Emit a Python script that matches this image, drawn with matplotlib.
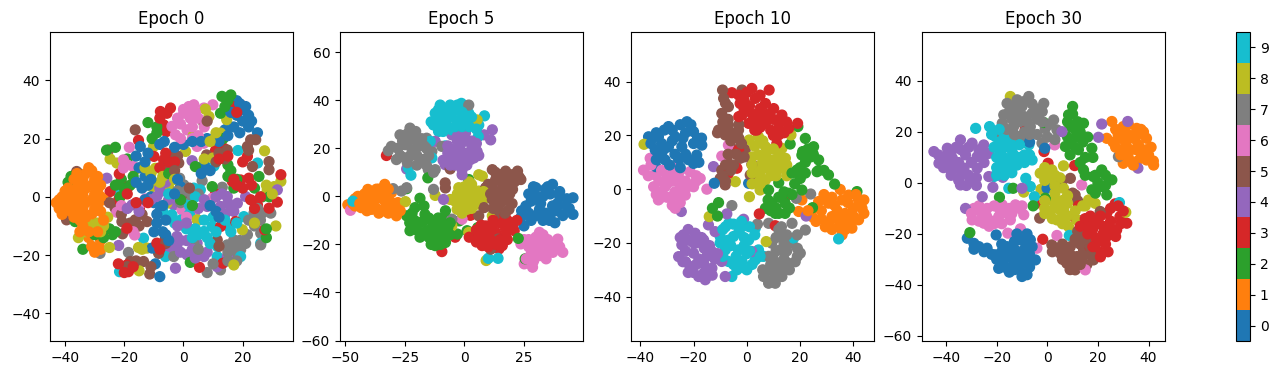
import matplotlib
matplotlib.use("Agg")
from matplotlib import pyplot as plt
from matplotlib.cm import ScalarMappable
from matplotlib.colors import Normalize

# points, (x, y) per digit class

# Epoch 0
e0_0 = [(18,33),(20,30),(18,28),(22,28),(20,26),(17,24),(22,24),(25,22),(14,23),(11,21),(8,20),(-14.6,17.3),(-12,15),(-6.5,19),(0,18),
        (-15,10),(-13,7),(-14,3),(-11,0),(-12,4),(-10,-2),(-8,-5),(-9,-9),(-7,-12),(-6,-13),(-1,3.5),(7,11),(11,-5),(-9.5,-23),(-8,-27.4),(-10.6,-17.6),
        (19,32),(16,29),(21,31),(23,26),(19,22),(15,21),(12,19),(6,19),(-16,14),(-8,18),(-3,17),(3,19),(-13,12),(-16,5),(-11,6),(-13,-1),(-7,-3),(-10,-12),(-6,-8),(-9,-6),(-5,-15),(-3,1),(-2,6),(9,-3),(12,-7),(6,8),(9,9)]
e0_1 = [(-42,-1),(-42,-4),(-40,2),(-40,-3),(-38,5),(-38,0),(-38,-5),(-36,8),(-36,3),(-36,-2),(-35,-8),(-34,6),(-34,1),(-34,-4),(-33,-10),
        (-31,9),(-31,4),(-31,-1),(-31,-6),(-30,-9),(-29,7),(-29,2),(-29,-3),(-32,-14),(-31,-17),(-28,-15),(-28,-18),(-27,-1),(-27,-12),
        (-43,-2),(-41,0),(-41,-6),(-39,3),(-39,-2),(-37,6),(-37,2),(-37,-3),(-37,-7),(-35,4),(-35,0),(-35,-5),(-33,8),(-33,3),(-33,-2),(-33,-7),(-32,10),(-30,6),(-30,1),(-30,-4),(-28,4),(-28,0),(-28,-5),(-34,-10),(-32,-12),(-29,-12),(-30,-19),(-27,-8),(-35,-12)]
e0_2 = [(-26,-12),(-24,-13),(-28,-12),(-34,-18),(-36.6,-8.5),(-35,-3.3),(-38,7),(-39,5),(-26,16),(-19,13),(-21,6),(-12,25.5),(-9,22),(-10.6,20),
        (13,34.5),(16,35),(12.5,28.7),(13.4,20),(16,9),(17,3),(25.5,7),(26.6,0),(29,0),(28,-14),(2.3,-22.5),(9.7,3.5),(4,10.4),(-21.4,0),
        (-27,-14),(-25,-11),(-30,-13),(-23,-12),(-23,17),(-9,24),(15,33),(14,31),(15,11),(18,6),(15,7),(24,3),(-18,4),(-20,3),(-17,7),(-23,4),(3,-3),(-5,8),(-1,-1),(28,-11)]
e0_3 = [(-7.8,29.3),(-4.4,30.5),(-5.6,28.7),(-6.7,24.7),(-5.8,22.4),(-15.2,19.4),(16.5,31),(19.3,31.6),(-10,13.9),(-6.7,12.7),(-21.7,7.9),(-18.6,3.5),
        (-21.9,-1),(-24.8,1.8),(10.8,15.9),(13.6,16.7),(21.6,13.9),(19.3,5.8),(22.1,6.4),(16.5,5.3),(10.8,1),(22.7,-1),(25,-2.8),(31.7,-1.8),(32.9,7.6),
        (28.9,-3.9),(27.4,-11.3),(17.6,-8.5),(12.5,-10.2),(13.3,-22.8),(5.4,-24.2),(-19.1,-23.4),(-18.6,-25.7),(-9,-15.9),(-14.9,-3.9),(-19.1,-10.8),
        (-8,27),(-3,12),(-8,10),(-5,12),(18,29),(18,4),(20,3),(23,4),(17,6),(24,-4),(26,0),(-20,-26),(-17,-24),(-22,-23),(-8,-18),(-12,-2),(-6,15),(12,13),(15,14),(20,12),(-16,-2),(-19,1)]
e0_4 = [(-29.3,-.7),(-25.9,6.4),(2.9,12.4),(-21.9,-16.7),(-17.4,-2.8),(-7.8,1.8),(-3.3,-2.8),(-2.7,-24.5),(14.8,.1),(12.5,-3.3),(15.9,-4.5),(18.2,-2.2),
        (8,-3.3),(21,.1),(-2.2,-13.6),(4.6,-15.9),(-2.2,-17.6),(-5.6,-18.2),(1.2,-19.9),(6.9,-20.5),(14.8,-20.5),(11.4,-24),(31.7,2.4),(-9,.1),
        (13,1),(15,-2),(17,-5),(14,-6),(11,0),(-1,-15),(1,-15),(3,-18),(-1,-19),(4,-21),(8,-19),(-4,-16),(-8,3),(-5,-1),(-6,5),(-11,-1),(-15,-5),(-19,-4),(5,-4),(7,-1),(-2,-10),(1,-9)]
e0_5 = [(-16.3,23),(-25.3,16.1),(-36.1,8.7),(-39.5,-7.9),(-23.1,-3.9),(-20.8,-8.5),(-16.3,-7.9),(-12.3,-8.5),(-20.6,-12.7),(-6.1,-13.9),(-18,-22.2),(-13.5,-22.2),
        (-11.4,-26.5),(-3.3,14.4),(-1.6,11.6),(6.9,25.3),(7.8,14.4),(13.1,13.3),(14.8,16.1),(21.6,17.3),(22.7,19.6),(24.4,19.6),(23.3,10.4),(28.9,12.1),(28.9,9.3),
        (11.4,-14.8),(.1,1.3),(-8.4,-19.4),
        (-18,-9),(-15,-10),(-21,-6),(-14,-6),(-4,13),(-2,14),(-5,11),(12,15),(11,12),(14,13),(22,16),(-16,-22),(-19,-24),(-11,-24),(8,26),(-25,-2),(-1,-1),(2,3),(-3,9),(12,-17),(-6,-16)]
e0_6 = [(1.8,31),(3.5,31.6),(6.9,30.5),(9.9,31.6),(.1,28.7),(2.3,27),(-3.9,24.2),(-2.7,21.3),(4.6,17.3),(1.2,23),(6.9,18.4),(-18.3,17),(-20.3,12.7),(-20.3,9.9),
        (-16.9,10.4),(-12.9,-.7),(-22.5,-5.3),(-16.5,-13.1),(-.5,-4.5),(3.7,-6.2),(9.7,-.5),
        (4,29),(2,30),(0,30),(5,27),(3,24),(-1,25),(5,21),(7,24),(3,20),(-1,20),(-2,27),(-19,11),(-21,-3),(-17,-12),(1,-7),(-14,-2)]
e0_7 = [(-31,-17.1),(-28.2,-19.4),(-18.6,-19.1),(-1.3,6.4),(6.3,5.5),(.1,4.1),(13.1,3.3),(1.8,-.5),(23.8,-5.6),(29.5,-5.6),(26.6,-5.6),(23.8,-9),(26.1,-12.5),
        (21.6,-13),(17,-14.8),(19.3,-18.2),(14.8,-16.5),(17,-19.9),(3.5,-15.9),(12.5,-25.1),(8,-26),(26.1,-16.5),(-3.3,-20.5),
        (17,-17),(19,-15),(21,-16),(24,-10),(22,-8),(26,-8),(25,-4),(18,-22),(15,-19),(15,-22),(1,2),(-2,2),(3,0),(5,1),(-1,-2),(10,-23),(5,-18)]
e0_8 = [(-35.5,8.1),(-24.8,13),(-22.5,11.6),(-16.3,9.3),(-10.1,17.3),(-9.5,9.8),(-11.2,5.8),(-10.6,3.5),(-5,3.3),(-4.4,9.5),(.7,15.6),(-5.6,-2.2),(7.4,30.1),(8.6,27.6),
        (14.6,26.5),(12.5,21.9),(10.3,19.6),(3.3,21),(27.4,15.8),(32.9,5.3),(30.6,3.5),(28.3,2.4),(31.2,-10),(19.9,-11.3),(4.6,-7.9),(-15,-25.4),(-15.2,-17.4),(-12.3,-17.6),
        (-25.6,-7),(-31.2,-9.6),(-35.5,-14),(-25,-17.4),(17,-23.4),(9.9,13.3),
        (-27,-10),(-29,-9),(-33,-12),(-11,8),(-8,5),(-13,10),(-7,7),(11,22),(9,19),(30,1),(28,4),(-28,-12),(-14,-18),(-3,6),(7,13),(24,-9)]
e0_9 = [(-6.7,7.6),(-22.2,1.6),(18.4,15.9),(15.3,24.2),(10.3,10.6),(3.5,3),(5.7,2.4),(-3.9,-6.2),(1.2,-2.8),(2.9,-11.3),(6.9,-11.9),(9.7,-10.2),(11.4,-17),(11.4,-20.5),
        (15.3,-10.2),(20.4,-6.8),(-13.5,-14.2),(-21.6,-25.7),(-6.1,-20.5),(19.3,-20.5),(26.1,-15.9),(25,11.6),
        (2,-6),(5,-8),(4,-11),(7,-8),(10,-7),(1,-11),(-1,-8),(-3,-9),(8,-14),(11,-12),(14,-8),(18,-9),(16,-12),(5,-13),(9,-16),(3,-14),(-5,1),(4,0),(2,-3),(-7,-5)]

# Epoch 5
e5_0 = [(30,3.6),(37,5),(33,0),(40,0),(45.6,-.6),(25.8,-4),(31.5,-5.4),(37,-4),(42.8,-4),(45.6,-7.5),(30,-8),(35.7,-10),(41.3,-8),(23.7,-8.8),(25,-12.3),(28,-2),(34,3),(39,-6),
        (27,1),(30,0),(36,1),(43,-1),(27,-7),(34,-7),(39,-3),(44,-5),(24,-6),(32,-3),(36,-8),(40,2),(38,-11),(33,-10),(28,-10),(29,4),(35,4)]
e5_1 = [(-49,-3.5),(-44.8,0),(-40.6,2.9),(-33.5,5),(-36,3),(-43.4,-4.7),(-39,-5.4),(-39,-1.3),(-34,-1.3),(-34,-6),(-28.6,-8.1),(-28,-2.6),(-30.7,1.5),(-47,-3),(-31,-5),
        (-46,-1),(-46,-4),(-43,-1),(-42,1),(-41,-3),(-37,3),(-37,-1),(-37,-5),(-36,-7),(-32,-1),(-32,3),(-32,-7),(-30,-3),(-29,-5),(-35,1),(-41,-6),(-38,1),(-33,-4),(-27,-6),(-44,-3)]
e5_2 = [(-20.8,-4.7),(-24.3,-8.1),(-22.9,-14.3),(-18.7,-17),(-16.6,-7.5),(-13.7,-13.7),(-12.3,-20.5),(-8,-9.5),(-8,-19.2),(-10.9,-17),(-10,-12),(-3,-15.7),(1.1,-14.3),
        (-2.2,-10.2),(5.6,-13),(-24.3,3.2),(-18.7,-.8),(-15.4,7.7),(1.8,7),(22.6,-17.5),(25.5,-26),(-19,-11),(-15,-17),
        (-22,-7),(-21,-10),(-23,-11),(-20,-14),(-17,-4),(-17,-10),(-15,-9),(-16,-14),(-14,-10),(-13,-17),(-11,-9),(-11,-13),(-9,-15),(-10,-20),(-7,-13),(-6,-16),(-6,-11),(-14,-20),(-12,-12),(-8,-6)]
e5_3 = [(-32.8,17),(2.5,-7.9),(-9.5,-23),(-3.9,-17),(4.6,-17.8),(3.2,-15),(8.9,-12.3),(14.5,-10.9),(20.2,-12.3),(20.9,-14.3),(13.1,-15),(17.3,-15.7),(7.4,-20.5),(14.5,-21.9),
        (15.9,-20.5),(10.3,-16.4),(5,-19),(12,-19),
        (2,-17),(5,-14),(7,-15),(7,-12),(11,-13),(12,-10),(16,-11),(17,-13),(18,-10),(8,-18),(11,-18),(15,-18),(18,-18),(13,-20),(10,-21),(17,-8),(22,-10)]
e5_4 = [(-5.3,25.6),(.4,26.3),(-1.7,21.5),(-5.3,19.4),(3.2,20.8),(5.3,18.7),(-8.1,13.2),(-2.4,15.3),(2.5,15.3),(-1,11.1),(-6,16),(11.7,27.7),(8.2,25.6),(11,23.5),(-12.3,22.9),
        (-24.3,11.4),(-8.8,-1.3),(-1,18),(3,23),
        (-3,25),(-2,27),(1,23),(-3,23),(-7,21),(-3,19),(1,18),(4,16),(-6,13),(-4,13),(0,14),(-9,15),(-7,18),(-1,13),(-1,9),(1,13),(5,22),(6,17)]
e5_5 = [(11.7,11.1),(17.3,10.5),(22.3,10.5),(23.7,7),(13.1,7),(18.7,6.3),(8.9,3.6),(14.5,1.5),(20.2,2.9),(11.7,-1.3),(17.3,-1.3),(14.5,-3),(14.5,-6.1),(18.7,-5.4),(8.2,-4.7),
        (6,-8.1),(15.2,-8.8),(-8.1,5.6),(-8,3.5),(-6,11.4),(14.1,-17.8),(11,-22),
        (13,10),(15,9),(20,9),(16,5),(21,6),(10,5),(12,3),(17,3),(23,8),(11,1),(14,-1),(19,1),(15,-3),(20,-3),(12,-5),(17,-7),(16,8)]
e5_6 = [(12.4,4.5),(-47.9,-5.8),(31.5,-15),(35,-18),(23.7,-19.8),(28.6,-20.5),(33.6,-19.2),(39.2,-17.8),(41.3,-23.3),(37.1,-23.3),(31.5,-24.7),(34.3,-26),(25.1,-28.1),(28.6,-29.5),(-1,-9.5),
        (25,-18),(27,-18),(30,-17),(33,-16),(36,-20),(38,-21),(35,-23),(28,-24),(27,-21),(31,-22),(40,-21),(34,-24),(29,-27),(26,-26),(31,-18)]
e5_7 = [(-22.9,28.4),(-20.5,27),(-27.1,25.6),(-20.1,24.2),(-15.9,24.2),(-30.7,20.8),(-25,21.5),(-19.4,20.8),(-13.7,18.7),(-28.6,15.3),(-22.9,16.7),(-17.3,15.3),(-15.2,11.1),
        (-12.3,11.1),(-30,3.2),(-26.5,2.2),(-24.3,3.6),(-13,2.9),(1.8,38),(-5.3,-9.5),(-9.5,20.8),
        (-24,26),(-22,25),(-26,23),(-23,23),(-18,24),(-28,20),(-22,19),(-16,20),(-32,19),(-27,17),(-25,16),(-20,17),(-15,17),(-20,13),(-24,14),(-17,21),(-13,10),(-16,13)]
e5_8 = [(7.5,8.4),(-2.4,3.6),(1.8,2.9),(6,2.2),(8.9,-.6),(-6,-1.3),(-1.7,-1.3),(3.2,-1.3),(-3.1,-5.4),(1.1,-5.4),(6,-3.3),(11.7,-8.1),(-12.3,.4),(-24.8,-2.2),(-5.3,-12.3),(1.8,-15),(9.1,-26.7),(5.3,31.8),
        (0,4),(3,5),(5,0),(7,0),(-3,1),(1,0),(-1,1),(4,-3),(-2,-4),(3,-5),(-4,-2),(8,2),(-1,-7),(6,9),(2,6),(0,-3)]
e5_9 = [(-10.2,38),(-1.3,38.7),(-12.3,34.6),(-6.7,35.2),(1.8,34.6),(8.4,33.5),(-13,29.7),(-8.1,31.1),(-3.1,31.8),(1.8,31.1),(6,29.7),(-10.9,27),(-5.3,27.7),(5.8,24.9),(-8.1,21),
        (-14.4,22.9),(-23.6,11.8),(-22.5,8.8),(10,-25.8),(14.1,-25.8),(-46.9,-2),(-13.7,16),
        (-11,36),(-9,36),(-4,36),(-12,32),(-10,33),(-6,33),(-1,35),(3,33),(-14,31),(-11,29),(-7,29),(-4,29),(-1,29),(2,29),(5,28),(0,33),(-9,27),(-6,38),(-3,38)]

# Epoch 10
e10_0 = [(-36.9,19.5),(-29.4,23.3),(-22.5,25.1),(-33.2,19.5),(-26.9,19.5),(-20,21.4),(-34.4,14.6),(-29.4,15.8),(-24.4,15.8),(-16.9,16.4),(-18.5,19),(-30.7,10.9),(-25.6,10.9),(-20,9.6),
         (-18.8,12.7),(-34.2,8.4),(-12.2,2.2),(.7,2.2),(-27,8),(-23,21),
         (-34,21),(-31,22),(-28,22),(-25,24),(-21,24),(-36,17),(-32,17),(-28,18),(-24,19),(-20,17),(-17,19),(-32,13),(-27,13),(-23,13),(-34,11),(-29,9),(-22,11),(-18,10),(-25,8),(-31,15)]
e10_1 = [(35.1,-.1),(20.7,-4),(27,-4.6),(19.5,-8.3),(24.5,-10.2),(30.7,-5.2),(35.8,-4),(42,-4),(43.3,-7.1),(32,-10.2),(37,-9),(42,-11.4),(29.5,-14),(34.5,-14),(39.5,-14.5),(35.8,-17),(28,-8),(38.3,-2.2),
         (25,-7),(29,-2),(32,-3),(33,-6),(38,-5),(40,-7),(41,-2),(44,-4),(23,-8),(28,-11),(34,-11),(40,-10),(31,-12),(36,-12),(37,-15),(32,-15),(39,-12),(44,-9),(26,-12),(34,-8)]
e10_2 = [(22,18.9),(25.1,15.8),(20.7,12.7),(27,10.9),(26.4,6.5),(30.7,5.3),(33,1.9),(16.3,16.8),(19.2,23.3),(18.8,7.1),(20.1,4),(12,2.4),(15.7,-1.5),(20.7,-.3),(8.2,-.3),(9.4,-5.2),(7,-7.1),
         (14.4,-9),(10.7,-9),(14.4,-5.2),(-10.6,-5),(-12.9,-7.1),(-11,-10),(41.4,-.9),(24.7,-6.9),
         (23,15),(22,10),(20,8),(25,13),(27,7),(17,6),(22,6),(12,-3),(14,-1),(11,-7),(9,-8),(12,-9),(8,-4),(16,-7),(13,-3),(17,-2),(21,14),(24,12),(29,7),(18,2)]
e10_3 = [(-5.6,35.9),(1.9,37.5),(8.4,36.9),(-2.5,31.9),(3.2,33.8),(7,31.9),(10.1,30),(-1.8,27.6),(4.4,27.6),(13.2,27.6),(.7,24.5),(7,24.5),(12,22.6),(3.8,22),(12,20.2),(15.7,22.6),(19.1,24.5),
         (11.3,17),(14.4,-2.8),(4.7,-9.2),(10.7,-13.6),(-3.7,7.8),(-6.9,5.9),(-3.1,14.6),
         (-3,35),(0,36),(5,35),(-1,33),(1,31),(5,30),(8,28),(2,28),(-1,30),(6,26),(10,26),(12,25),(3,25),(9,22),(5,23),(10,20),(15,25),(-3,27),(3,22),(14,21)]
e10_4 = [(-23.8,-17),(-19.4,-16.4),(-24.4,-20.7),(-16.2,-18.9),(-25.6,-25.1),(-20,-23.8),(-13.1,-23.2),(-21.3,-28.8),(-16.2,-27.6),(-13.1,-29.4),(-15.6,-33.7),(-18.1,-32.5),(-24,-27),(-12.5,8.4),
         (-24.6,-8.3),(-7.5,-9.2),(-1.2,-11.2),(-14.4,-13.3),(-11.9,-15.8),(-8.1,-32.5),(1.9,-23.2),(-9.4,-26.9),(22.3,-10),
         (-22,-15),(-22,-19),(-25,-18),(-19,-20),(-14,-21),(-23,-23),(-20,-20),(-16,-22),(-18,-26),(-23,-27),(-15,-25),(-12,-26),(-20,-31),(-16,-31),(-13,-32),(-19,-28),(-22,-31),(-11,-24),(-17,-18)]
e10_5 = [(-9.1,36.9),(-8.7,33.8),(-6.9,30.7),(-9.4,28.2),(-10.6,22),(-6.9,23.9),(-3.1,22),(-8.1,20.2),(-5,20),(-.6,14.6),(-5.6,15.2),(-2.5,11.5),(-7.5,11.5),(-9.4,7.1),(-10,4),(-8.1,1.6),(1.9,9.3),(1.3,5.3),(-1.8,36.9),
         (-8,32),(-7,26),(-9,25),(-9,23),(-6,21),(-11,21),(-3,19),(-6,18),(-2,17),(-7,13),(-4,13),(-1,12),(-8,9),(-5,9),(-9,5),(-6,7),(-8,3),(-3,24)]
e10_6 = [(-36.3,11.5),(-38.8,7.1),(-34.4,5.3),(-30,4.7),(-25.7,4.7),(-21.3,6.5),(-17.5,4),(-20,.9),(-35,.9),(-30.7,.9),(-25,.9),(-33.2,-4),(-28.2,-2.8),(-23.1,-2.2),(-26.9,-7.1),(-15,0),(-9.4,12.3),(-6.9,16.4),(-28,8),
         (-36,9),(-32,7),(-28,6),(-25,7),(-33,3),(-28,3),(-23,3),(-19,3),(-37,5),(-32,-1),(-27,-1),(-22,1),(-30,-3),(-25,-3),(-34,-2),(-28,-6),(-25,-5),(-32,-3),(-19,5),(-30,2)]
e10_7 = [(-5.6,-6.1),(18.6,-3.4),(24,-1.8),(4,-13),(8.2,-12.7),(17,-12.7),(22,-15.2),(13.2,-17.6),(9.4,-20.1),(17,-20.1),(20.1,-23.8),(12.6,-22.6),(8.2,-25),(15.7,-27.6),(10.7,-30),(6.3,-32.5),(13.2,-32.5),(8.2,-35),(10.7,-35),(18.2,-27),
         (12,-15),(15,-17),(19,-17),(11,-18),(14,-20),(19,-22),(11,-23),(15,-23),(10,-26),(14,-26),(19,-25),(9,-28),(12,-28),(8,-30),(14,-30),(6,-30),(10,-33),(16,-30),(13,-14)]
e10_8 = [(.9,18.3),(4.4,19.5),(7,15.8),(13.2,15.2),(14.5,11.5),(4.4,12.7),(9.4,10.9),(4.4,8.4),(9.4,7.1),(13.2,7.8),(3.8,4),(7,3.4),(5,-.3),(16.6,20.2),(15,5),(-4.3,2.8),(1,-2.8),(-14.1,-10.2),(7.3,-19.5),(-38.6,16.7),
         (3,16),(6,18),(10,15),(12,13),(7,13),(2,12),(6,10),(12,10),(15,9),(2,9),(7,8),(11,8),(2,6),(5,6),(9,5),(5,2),(8,9),(11,5),(2,2)]
e10_9 = [(-6.8,-12.7),(-1.8,-14),(3.2,-14.5),(-10,-17.6),(-5,-17.6),(.7,-18.9),(-8.1,-22.6),(-3.1,-22.6),(4.4,-22.6),(6.3,-25),(-6.9,-26.9),(-1.8,-26.9),(3.2,-26.3),(0,-30),(-3.7,-30),(-5.6,-32.5),(34.5,-18.5),(17.6,-18.2),
         (-8,-14),(-5,-13),(-2,-12),(1,-14),(-9,-15),(-7,-19),(-3,-16),(-1,-18),(3,-17),(-10,-20),(-6,-21),(-1,-21),(1,-23),(-9,-25),(-4,-25),(0,-24),(-5,-28),(-2,-29),(2,-28),(-8,-20),(5,-25)]

# Epoch 30
e30_0 = [(-31.6,-21.7),(-27,-25),(-20.2,-20.4),(-15.9,-25),(-20.5,-28.2),(-15.2,-28.9),(-10.6,-22.3),(-6.7,-22.3),(-9.3,-26.3),(-4.7,-30.2),(-19.2,-33.5),(-13.9,-32.8),(-10,-36.7),(-8,-30.2),(-12,-30),(-.1,-2.1),(-1,13.6),
         (-17,-33),(-23.8,-25.6),(-29,-23.7),(-7,16),
         (-18,-24),(-13,-23),(-9,-23),(-6,-25),(-13,-26),(-18,-27),(-22,-28),(-7,-28),(-11,-28),(-17,-30),(-13,-30),(-10,-31),(-18,-32),(-15,-35),(-11,-34),(-7,-33),(-8,-36),(-20,-30),(-13,-34),(-8,-20),(-12,-20),(-29,-26),(-25,-27)]
e30_1 = [(25.5,24.1),(30,22.1),(35.3,21.4),(23.5,17.5),(28.7,17.5),(34,17.5),(39.2,17.5),(30,13),(35.3,13),(39,13),(30,7.7),(35.3,8.4),(41.9,8.6),(39.2,9),(32,19),(37,21),
         (27,21),(32,23),(28,19),(31,19),(36,19),(38,20),(26,16),(31,15),(36,15),(41,14),(27,14),(33,13),(38,12),(32,10),(37,10),(29,11),(34,7),(33,18),(40,11),(42,7)]
e30_2 = [(10,30),(8.4,26.7),(14.3,23.4),(9,22.1),(11.7,18.2),(7.1,14.3),(17.6,13.6),(12.3,13),(14.3,5.1),(21.5,5.1),(25.5,1.2),(18.2,2.5),(21.5,-1.4),(17.6,-2.7),(23.5,-4.7),(-1.4,23.7),(-13.5,-2.1),(-18.9,-5.6),(-5.6,-9),(-30.6,-19.5),(-.8,-6),
         (10,27),(12,24),(11,21),(8,18),(13,20),(16,18),(14,16),(10,15),(9,11),(15,10),(13,8),(18,10),(19,3),(23,3),(20,0),(23,-1),(19,-4),(15,3),(8,24)]
e30_3 = [(-8.7,21),(-1.3,12.3),(.3,7.7),(10.8,6.8),(-4.7,-8.2),(-1.8,-22.1),(12.3,-9),(10.4,-13.2),(26.8,-8.2),(23.5,-11.9),(28.7,-13.2),(31.4,-15.8),(18.2,-14.5),(15.6,-17.1),(22.2,-17.1),(27.4,-18.4),(18.2,-21),(23.5,-21),(20.2,-26.9),(16.9,-25),
         (25,-10),(28,-9),(21,-13),(25,-15),(29,-16),(22,-20),(25,-18),(20,-16),(18,-18),(15,-14),(20,-23),(23,-24),(18,-25),(21,-29),(24,-27),(30,-11),(16,-20),(27,-21),(13,-17),(17,-13)]
e30_4 = [(-44.8,12.3),(-39.5,13.6),(-34.3,16.9),(-29.7,15.6),(-25.1,14.9),(-23.1,11.6),(-42.8,7.7),(-37.5,9.7),(-32.3,11),(-27.7,10.3),(-38.2,5.1),(-32.9,5.8),(-27.7,5.8),(-34.3,-.8),(-30.3,1.2),(-23.1,2.5),(-17.6,2.2),(-21.5,-1.7),
         (-25.7,-5.4),(-32.3,-10),(21.5,23.1),(31.8,24.1),(20.2,17.9),(35.8,5.8),(5.8,20.1),(-10,-2.1),
         (-43,11),(-41,10),(-38,12),(-36,14),(-34,13),(-31,14),(-27,13),(-41,6),(-39,8),(-36,6),(-35,8),(-30,8),(-25,8),(-34,3),(-38,3),(-31,3),(-28,2),(-35,1),(-32,-1),(-25,11),(-28,-1)]
e30_5 = [(5.8,.5),(9.1,1.8),(11,-4.7),(12,-7),(-3,-13.8),(14.2,-14.5),(1.8,-24.3),(5.1,-27.6),(9.1,-25),(13,-21),(14.3,-26.3),(18.2,-30.2),(7.7,-31.5),(11,-34.1),(15.6,-32.1),(11.7,-28.9),(3,-26),(20.9,-11.2),
         (10,-4),(4,-26),(6,-24),(9,-28),(7,-27),(13,-24),(11,-22),(10,-31),(14,-29),(17,-28),(6,-30),(9,-34),(13,-32),(17,-25),(15,-22),(2,-27),(12,-19)]
e30_6 = [(-29,-10),(-29.7,-14.5),(-23.8,-10),(-17.8,-8.6),(-12.6,-8.6),(-19.2,-13.2),(-25.1,-15.8),(-9.3,-12.5),(-14.6,-14.5),(-15.6,-19.7),(-10.6,-18),(13.6,-.8),(3.8,-20.6),(-4.1,-25.6),(2.9,14.9),(15,-34.1),(-21,-16),
         (-27,-9),(-26,-12),(-21,-9),(-24,-13),(-19,-10),(-15,-10),(-16,-12),(-11,-10),(-22,-15),(-27,-15),(-18,-16),(-14,-12),(-30,-12),(-10,-9),(-23,-17)]
e30_7 = [(-7.3,33.9),(-11.9,32.6),(-15.9,31.2),(-1.4,31.2),(-17.2,26.7),(-11.9,27.3),(-6,27.3),(-17.8,23.4),(-13.3,22.1),(-6.7,22.1),(2.5,24.7),(3.8,20.8),(-.8,21.4),(-2.1,15.6),(-10.6,17.5),(-17.8,18.8),(28.1,10.3),
         (-9,32),(-13,30),(-10,30),(-6,31),(-4,29),(-15,28),(-9,26),(-14,25),(-11,24),(-8,24),(-4,25),(-2,24),(-16,21),(-13,19),(-9,20),(-4,19),(0,18),(1,23),(-7,19),(-2,28),(3,17)]
e30_8 = [(-14.6,33.9),(-2.8,3.8),(1.8,5.1),(6.4,6.7),(1.2,.5),(6.4,-2.1),(-2.5,-2.5),(-9.3,-3.6),(1.8,-6.7),(6.4,-6.7),(1.2,-11.2),(6.4,-10.6),(3.8,-14.5),(8.4,-17.1),(11.7,-14.5),(16.3,-6.7),(18.9,-8),(15,-9),(31,-11.5),(0,2),
         (-1,6),(0,3),(3,3),(-1,1),(3,-1),(-1,-7),(3,-4),(4,-7),(8,-5),(-1,-10),(4,-10),(-1,-12),(2,-14),(8,-13),(11,-11),(6,-16),(8,-8),(3,-9),(6,-13),(5,2),(14,-9)]
e30_9 = [(-28.3,21.4),(-22.8,22.1),(-20.5,18.2),(-14.6,16.2),(-7.3,14.9),(-18.5,12.9),(-13.3,11),(-6,9),(-18.5,7.7),(-12,7),(-21.1,2.5),(-15.2,-2.1),(-8.5,1.8),(-6.7,-1.4),(-5.1,-5.4),(8.7,-20.6),(28.5,-7.7),(-16.5,5.1),
         (-22,19),(-19,16),(-17,18),(-21,14),(-17,14),(-14,13),(-11,15),(-9,11),(-17,10),(-13,8),(-9,8),(-20,10),(-15,9),(-20,6),(-17,3),(-20,3),(-14,4),(-11,10),(-7,11),(-19,21),(-16,6)]

titles = ["Epoch 0", "Epoch 5", "Epoch 10", "Epoch 30"]
groups = [
    [e0_0, e0_1, e0_2, e0_3, e0_4, e0_5, e0_6, e0_7, e0_8, e0_9],
    [e5_0, e5_1, e5_2, e5_3, e5_4, e5_5, e5_6, e5_7, e5_8, e5_9],
    [e10_0, e10_1, e10_2, e10_3, e10_4, e10_5, e10_6, e10_7, e10_8, e10_9],
    [e30_0, e30_1, e30_2, e30_3, e30_4, e30_5, e30_6, e30_7, e30_8, e30_9],
]
xlims = [(-45.1, 37), (-52.3, 49.8), (-43.5, 47.8), (-49.5, 46.5)]
ylims = [(-49.5, 56.6), (-60.2, 68.4), (-56.5, 58.5), (-62, 59.2)]
left_px = [50, 340, 631, 922]

W, H = 1278, 374
fig = plt.figure(figsize=(W / 100, H / 100), dpi=100)
norm = Normalize(-0.5, 9.5)
cmap = plt.get_cmap("tab10", 10)

for i in range(4):
    ax = fig.add_axes([left_px[i] / W, (H - 341) / H, 243 / W, 309 / H])
    # go through the classes in turn so the colours overlap in a mixed order
    xs, ys, cs = [], [], []
    for n in range(max(len(g) for g in groups[i])):
        for label, pts in enumerate(groups[i]):
            if n < len(pts):
                xs.append(pts[n][0])
                ys.append(pts[n][1])
                cs.append(label)
    ax.scatter(xs, ys, s=50, c=cs, cmap=cmap, norm=norm)
    ax.set_xlim(xlims[i])
    ax.set_ylim(ylims[i])
    ax.set_title(titles[i])

cax = fig.add_axes([1236 / W, (H - 341) / H, 14 / W, 309 / H])
cbar = fig.colorbar(ScalarMappable(norm=norm, cmap=cmap), cax=cax)
cbar.set_ticks(range(10))

fig.savefig("out.png", dpi=100)
